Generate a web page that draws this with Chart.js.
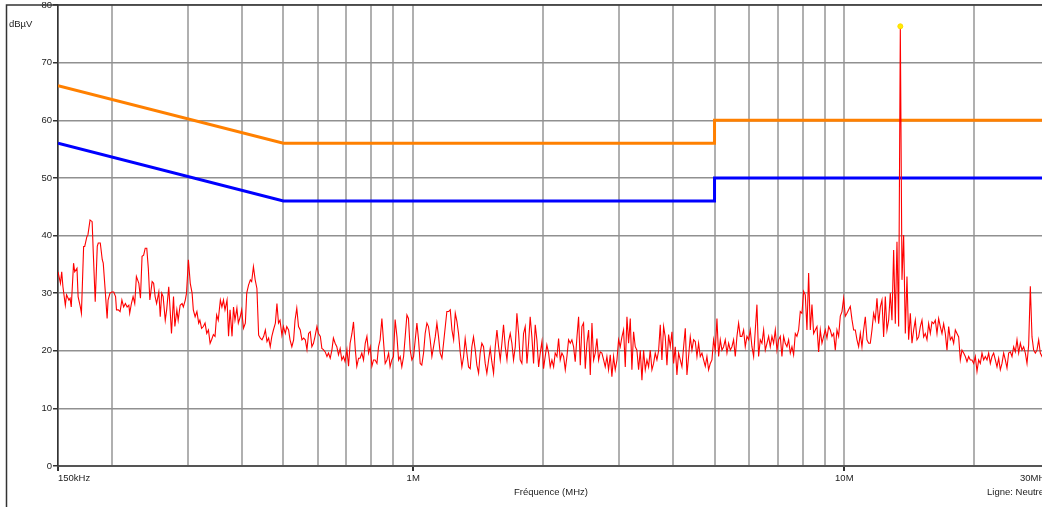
<!DOCTYPE html>
<html lang="fr">
<head>
<meta charset="UTF-8">
<title>Mesure conduite - Ligne Neutre</title>
<script src="https://cdn.jsdelivr.net/npm/chart.js"></script>
<style>
  html, body { margin: 0; padding: 0; background: #fff; overflow: hidden; }
  #wrap { width: 1042px; height: 507px; overflow: hidden; }
  canvas { display: block; }
</style>
</head>
<body>
<div id="wrap"><canvas id="emcChart" width="1100" height="507"></canvas></div>
<script>
const freqKHz = [
  150,152,153,154,156,157,159,160,161,163,
  164,166,167,169,170,172,173,175,176,178,
  180,181,183,185,186,188,190,191,193,195,
  196,198,200,202,204,205,207,209,211,213,
  215,217,219,220,222,224,226,228,231,233,
  235,237,239,241,243,245,248,250,252,254,
  257,259,261,263,266,268,271,273,275,278,
  280,283,285,288,291,293,296,298,301,304,
  307,309,312,315,318,320,323,326,329,332,
  335,338,341,344,347,350,353,357,360,363,
  366,370,373,376,380,383,386,390,393,397,
  400,404,408,411,415,419,422,426,430,434,
  438,442,446,450,454,458,462,466,470,474,
  479,483,487,491,496,500,505,509,514,518,
  523,528,532,537,542,547,552,557,562,567,
  572,577,582,587,592,598,603,609,614,619,
  625,631,636,642,648,653,659,665,671,677,
  683,689,695,702,708,714,721,727,734,740,
  747,753,760,767,774,781,788,795,802,809,
  816,824,831,838,846,854,861,869,877,884,
  892,900,908,917,925,933,941,950,958,967,
  975,984,993,1002,1011,1020,1029,1038,1047,1057,
  1066,1076,1085,1095,1105,1115,1125,1135,1145,1155,
  1166,1176,1187,1197,1208,1219,1230,1241,1252,1263,
  1274,1286,1297,1309,1320,1332,1344,1356,1368,1380,
  1393,1405,1418,1430,1443,1456,1469,1482,1496,1509,
  1522,1536,1550,1564,1578,1592,1606,1620,1635,1650,
  1664,1679,1694,1709,1725,1740,1756,1771,1787,1803,
  1819,1836,1852,1868,1885,1902,1919,1936,1954,1971,
  1989,2006,2024,2042,2061,2079,2098,2117,2135,2155,
  2174,2193,2213,2233,2253,2273,2293,2314,2334,2355,
  2376,2398,2419,2441,2462,2484,2507,2529,2552,2575,
  2598,2621,2644,2668,2692,2716,2740,2765,2789,2814,
  2839,2865,2890,2916,2942,2969,2995,3022,3049,3076,
  3104,3132,3160,3188,3216,3245,3274,3303,3333,3363,
  3393,3423,3454,3485,3516,3547,3579,3611,3643,3676,
  3709,3742,3775,3809,3843,3878,3912,3947,3983,4018,
  4054,4090,4127,4164,4201,4239,4277,4315,4353,4392,
  4432,4471,4511,4552,4592,4633,4675,4717,4759,4801,
  4844,4888,4931,4975,5020,5065,5110,5156,5202,5248,
  5295,5343,5391,5439,5487,5536,5586,5636,5686,5737,
  5788,5840,5892,5945,5998,6052,6106,6161,6216,6271,
  6327,6384,6441,6499,6557,6616,6675,6734,6795,6855,
  6917,6979,7041,7104,7167,7232,7296,7361,7427,7494,
  7561,7628,7697,7765,7835,7905,7976,8047,8119,8192,
  8265,8339,8413,8489,8564,8641,8718,8796,8875,8954,
  9034,9115,9197,9279,9362,9446,9530,9615,9701,9788,
  9876,9964,10053,10143,10234,10325,10418,10511,10605,10700,
  10795,10892,10989,11087,11187,11287,11388,11489,11592,11696,
  11800,11906,12012,12120,12228,12338,12448,12559,12672,12785,
  12899,13015,13131,13248,13367,13487,13607,13729,13852,13975,
  14100,14227,14354,14482,14612,14742,14874,15007,15141,15277,
  15413,15551,15690,15831,15972,16115,16259,16405,16551,16699,
  16849,16999,17151,17305,17460,17616,17773,17932,18093,18254,
  18418,18582,18748,18916,19085,19256,19428,19602,19777,19954,
  20133,20313,20494,20678,20862,21049,21237,21427,21619,21812,
  22007,22204,22403,22603,22805,23009,23215,23422,23632,23843,
  24056,24272,24489,24708,24929,25152,25377,25603,25832,26063,
  26297,26532,26769,27008,27250,27494,27739,27988,28238,28490,
  28745,29002,29262,29523,29787,30000
];

const levelDb = [
  33.7,31.7,33.7,31.1,27.9,29.7,28.8,29.1,27.6,35.2,
  33.7,34.3,29.4,27.6,26.5,38.1,38.1,39.8,40.1,42.7,
  42.4,37.5,28.5,38.1,38.7,38.7,35.8,35.2,30.5,25.6,
  28.8,30.0,30.2,30.2,29.4,27.1,27.1,26.8,28.8,27.6,
  28.2,27.6,27.9,26.5,28.2,29.4,28.2,32.9,31.7,29.1,
  36.4,36.6,37.8,37.8,34.3,28.8,32.0,31.7,29.4,28.2,
  30.2,25.9,30.0,29.4,25.3,27.1,31.1,27.1,23.0,29.4,
  24.2,27.1,25.3,27.9,28.2,27.6,28.8,30.0,35.8,31.7,
  30.0,27.1,25.9,26.8,24.8,25.3,23.9,24.2,24.8,23.0,
  23.6,21.3,22.0,22.8,22.5,26.2,25.3,28.8,27.6,28.8,
  27.1,28.8,22.5,27.1,22.5,27.6,25.3,27.4,24.8,25.9,
  27.1,23.9,24.8,30.0,31.4,32.3,32.0,34.6,32.3,30.8,
  22.7,22.2,21.9,22.5,23.6,21.6,22.2,20.7,22.5,23.6,
  24.8,28.2,24.8,25.3,22.7,24.2,23.0,24.2,23.6,21.9,
  20.7,21.9,25.3,27.4,24.2,23.6,21.9,22.2,21.9,20.2,
  23.0,23.3,20.7,21.3,22.5,24.2,23.0,22.5,20.4,20.2,
  19.8,19.0,19.6,18.7,20.2,22.2,21.3,20.7,19.3,20.4,
  18.4,19.0,18.1,20.2,17.3,21.3,23.0,25.0,20.2,17.3,
  18.7,18.7,19.6,18.4,21.3,22.5,19.6,20.7,17.3,18.4,
  18.4,17.8,20.7,21.9,25.6,21.3,17.8,18.4,19.6,17.2,
  18.4,19.0,25.4,22.4,18.4,19.0,17.2,19.0,22.4,26.2,
  25.6,20.1,18.4,19.0,21.9,24.8,21.9,17.8,17.5,19.6,
  23.0,24.8,24.2,21.9,19.0,20.7,22.4,24.8,22.4,19.6,
  18.7,21.3,24.2,26.8,26.8,27.1,23.6,21.9,26.5,25.1,
  23.0,19.6,17.2,19.0,22.1,19.6,17.2,16.9,20.7,22.4,
  20.1,17.5,16.1,19.6,21.3,20.7,17.8,16.1,18.4,20.4,
  18.1,16.1,20.7,23.6,20.7,18.4,21.3,24.5,20.7,18.4,
  21.6,23.0,21.3,18.4,20.7,26.5,23.0,18.4,17.8,23.0,
  24.2,17.8,21.3,25.9,22.4,17.8,24.5,21.9,17.2,19.6,
  21.6,16.9,19.0,21.0,19.6,17.2,18.4,17.2,19.6,19.0,
  22.1,18.4,19.6,19.0,16.7,19.0,21.9,21.3,21.9,20.7,
  18.1,22.4,25.9,17.5,24.2,24.8,16.9,21.3,23.6,15.8,
  24.8,18.4,19.6,22.1,18.4,19.8,19.6,18.4,17.2,19.0,
  16.7,19.3,15.5,19.0,16.7,18.4,21.9,20.7,22.4,23.6,
  17.2,25.9,21.3,25.6,16.7,23.3,20.7,20.1,16.7,20.1,
  14.9,20.1,16.7,18.4,17.2,20.1,16.7,17.8,19.6,18.4,
  20.0,24.5,18.4,24.2,22.4,17.5,22.8,20.7,23.3,17.8,
  20.7,15.8,19.6,18.4,17.2,20.7,23.9,15.8,19.0,22.4,
  20.1,21.9,21.6,19.0,21.3,19.0,19.6,18.4,17.3,19.0,
  16.7,17.8,18.4,21.9,20.1,25.6,19.0,21.9,20.1,20.7,
  21.9,19.6,21.3,20.1,20.7,21.9,19.0,22.5,24.8,22.5,
  22.5,23.6,20.7,22.5,21.9,23.6,20.7,19.0,23.6,28.0,
  19.0,21.9,21.3,23.6,20.1,21.3,22.5,20.7,22.5,21.3,
  23.6,20.1,21.9,22.5,19.0,22.5,21.3,20.7,21.9,19.6,
  20.7,19.3,23.0,22.5,23.6,26.8,26.5,30.3,29.7,23.6,
  33.5,23.6,28.0,23.0,23.6,24.2,19.8,23.6,21.3,22.5,
  23.6,22.2,24.2,23.6,22.5,23.0,20.1,23.6,22.5,26.0,
  26.8,29.1,26.0,26.5,27.1,27.7,25.4,23.6,23.6,21.9,
  20.7,23.0,20.7,23.6,25.9,21.9,21.3,21.3,23.6,26.5,
  25.3,29.1,24.7,27.6,28.8,22.4,29.4,23.6,25.3,30.0,
  25.3,37.5,24.7,38.9,24.2,76.3,32.3,40.1,23.0,32.9,
  21.9,26.5,21.3,23.6,25.3,21.9,22.4,24.2,25.3,22.4,
  23.0,21.9,24.7,23.0,25.0,24.7,25.3,23.0,25.6,24.2,
  23.0,24.7,23.0,20.1,24.2,21.9,22.4,21.3,23.6,23.0,
  22.4,18.4,20.1,19.6,19.0,18.1,19.0,18.4,18.4,17.8,
  19.0,16.4,18.4,17.8,19.6,18.4,19.0,18.4,19.6,17.8,
  19.0,19.6,18.4,17.2,18.7,16.7,17.8,19.6,18.4,17.0,
  19.6,19.8,19.0,20.7,19.8,21.9,19.6,21.3,20.1,20.7,
  19.6,17.8,21.0,31.2,22.4,20.1,19.6,20.1,21.9,19.6,
  19.0,20.0,19.2,19.6,19.0,19.3
];

// EN 55022 class B style limits (quasi-peak / average)
const qpFreq = [150, 500, 5000, 5000, 30000];
const qpLimit = [66, 56, 56, 60, 60];
const avFreq = [150, 500, 5000, 5000, 30000];
const avLimit = [56, 46, 46, 50, 50];

// peak marker
const peakFreq = [13487];
const peakLevel = [76.3];

// axis
const gridFreqs = [150, 200, 300, 400, 500, 600, 700, 800, 900,
  1000, 2000, 3000, 4000, 5000, 6000, 7000, 8000, 9000,
  10000, 20000, 30000];
const labelFreqs = [150, 1000, 10000, 30000];
const labelTexts = ['150kHz', '1M', '10M', '30MHz'];
const yUnit = 'dBµV';
const xTitle = 'Fréquence (MHz)';
const lineName = 'Ligne: Neutre';

const FONT = '"Liberation Sans", Arial, sans-serif';
Chart.defaults.font.family = FONT;
Chart.defaults.font.size = 9.5;
Chart.defaults.color = '#222';

const toPoints = (xs, ys) => xs.slice(0, Math.min(xs.length, ys.length)).map((x, i) => ({ x: x, y: ys[i] }));

// frame + extra texts
const decorations = {
  id: 'decorations',
  afterDraw(chart) {
    const c = chart.ctx;
    const area = chart.chartArea;
    c.save();
    c.strokeStyle = '#333';
    c.lineWidth = 1.5;
    c.beginPath();
    c.moveTo(6.5, chart.height);
    c.lineTo(6.5, area.top);
    c.lineTo(chart.width, area.top);
    c.stroke();

    c.fillStyle = '#222';
    c.font = '9.5px ' + FONT;
    c.textBaseline = 'alphabetic';
    c.textAlign = 'left';
    c.fillText(yUnit, 9, 27);
    c.textAlign = 'center';
    c.fillText(xTitle, 551, 495);
    c.textAlign = 'left';
    c.fillText(lineName, 987, 495);
    c.restore();
  }
};

new Chart(document.getElementById('emcChart'), {
  type: 'line',
  data: {
    datasets: [
      {
        label: 'Pic',
        data: toPoints(peakFreq, peakLevel),
        showLine: false,
        pointRadius: 2.5,
        pointBackgroundColor: '#ffee00',
        pointBorderColor: '#ffd800',
        pointBorderWidth: 1
      },
      {
        label: 'Mesure',
        data: toPoints(freqKHz, levelDb),
        borderColor: '#ff0000',
        borderWidth: 1.1,
        pointRadius: 0,
        tension: 0
      },
      {
        label: 'Limite AV',
        data: toPoints(avFreq, avLimit),
        borderColor: '#0000ff',
        borderWidth: 3,
        pointRadius: 0,
        tension: 0
      },
      {
        label: 'Limite QP',
        data: toPoints(qpFreq, qpLimit),
        borderColor: '#ff8000',
        borderWidth: 3,
        pointRadius: 0,
        tension: 0
      }
    ]
  },
  options: {
    responsive: false,
    animation: false,
    devicePixelRatio: 1,
    layout: { padding: { left: 0, top: 5, right: 50, bottom: 0 } },
    plugins: {
      legend: { display: false },
      tooltip: { enabled: false }
    },
    scales: {
      x: {
        type: 'logarithmic',
        min: 150,
        max: 30000,
        afterBuildTicks: (scale) => {
          scale.ticks = gridFreqs.map(v => ({ value: v }));
        },
        afterFit: (scale) => {
          scale.height = 41;
          scale.paddingLeft = 0;
          scale.paddingRight = 0;
        },
        ticks: {
          autoSkip: false,
          maxRotation: 0,
          align: 'inner',
          padding: 2,
          callback: (value) => {
            const i = labelFreqs.indexOf(value);
            return i >= 0 ? labelTexts[i] : '';
          }
        },
        grid: {
          color: '#b0b0b0',
          lineWidth: 2,
          tickLength: 5,
          tickColor: (ctx) => (ctx.tick && labelFreqs.includes(ctx.tick.value)) ? '#333' : 'rgba(0,0,0,0)'
        },
        border: { color: '#555', width: 2 }
      },
      y: {
        type: 'linear',
        min: 0,
        max: 80,
        afterFit: (scale) => {
          scale.width = 58;
          scale.paddingTop = 0;
          scale.paddingBottom = 0;
        },
        ticks: { stepSize: 10, padding: 1 },
        grid: {
          color: '#909090',
          lineWidth: 1.5,
          tickLength: 5,
          tickColor: '#333'
        },
        border: { color: '#333', width: 1.5 }
      }
    }
  },
  plugins: [decorations]
});
</script>
</body>
</html>
